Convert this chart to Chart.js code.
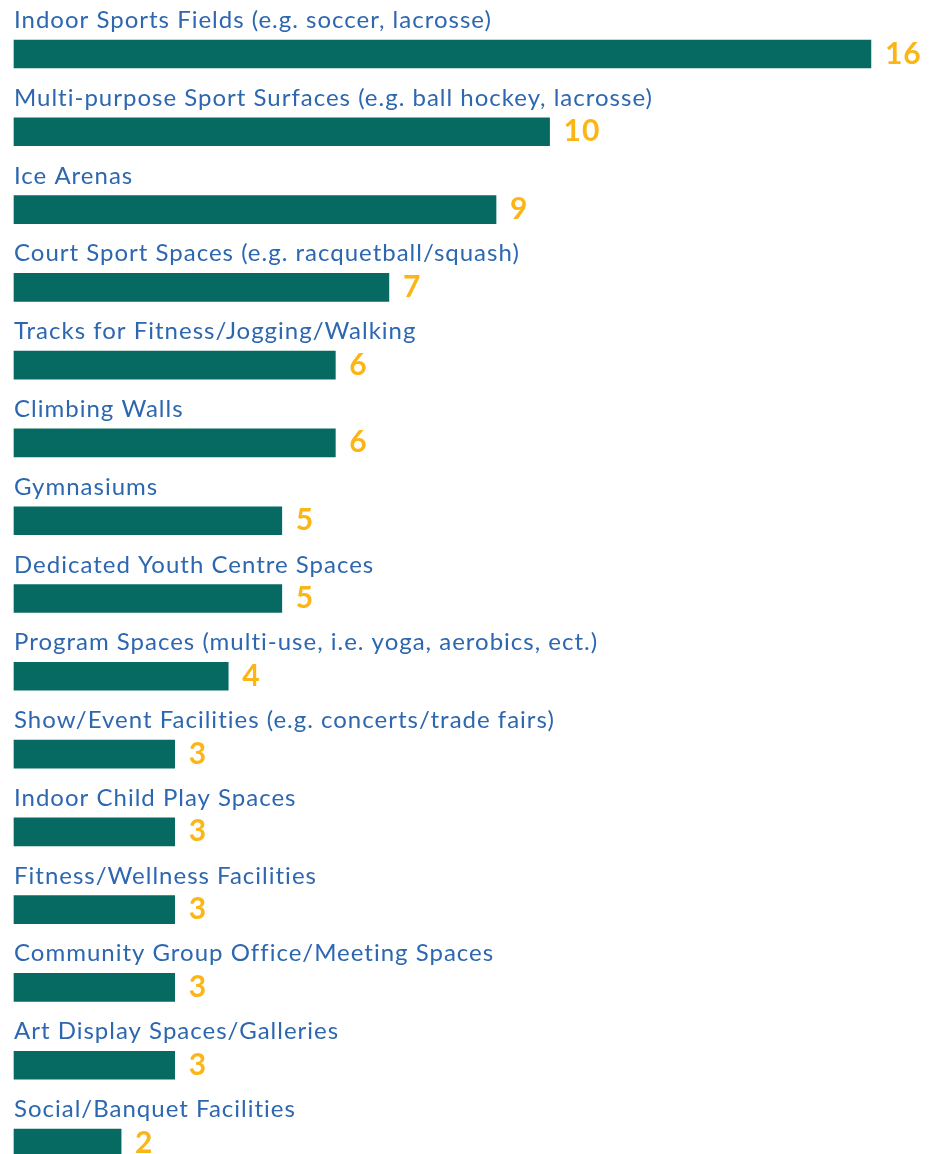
<!DOCTYPE html>
<html>
<head>
<meta charset="utf-8">
<script src="https://cdn.jsdelivr.net/npm/chart.js@4"></script>
<style>
  html, body { margin: 0; padding: 0; background: #fff; overflow: hidden; }
  #wrap { width: 940px; height: 1154px; position: relative; }
</style>
</head>
<body>
<div id="wrap"><canvas id="myChart"></canvas></div>
<script>
// facility types and number of mentions
const facilities = [
  'Indoor Sports Fields (e.g. soccer, lacrosse)',
  'Multi-purpose Sport Surfaces (e.g. ball hockey, lacrosse)',
  'Ice Arenas',
  'Court Sport Spaces (e.g. racquetball/squash)',
  'Tracks for Fitness/Jogging/Walking',
  'Climbing Walls',
  'Gymnasiums',
  'Dedicated Youth Centre Spaces',
  'Program Spaces (multi-use, i.e. yoga, aerobics, ect.)',
  'Show/Event Facilities (e.g. concerts/trade fairs)',
  'Indoor Child Play Spaces',
  'Fitness/Wellness Facilities',
  'Community Group Office/Meeting Spaces',
  'Art Display Spaces/Galleries',
  'Social/Banquet Facilities'
];
const mentions = [16, 10, 9, 7, 6, 6, 5, 5, 4, 3, 3, 3, 3, 3, 2];

const barColor = '#066a62';
const labelColor = '#2d67b0';
const valueColor = '#fbb616';

// draws the category name above each bar and the count after it
const barText = {
  id: 'barText',
  afterDatasetsDraw(chart) {
    const ctx = chart.ctx;
    const meta = chart.getDatasetMeta(0);
    ctx.save();
    meta.data.forEach((bar, i) => {
      const top = bar.y - bar.height / 2;
      ctx.font = '24px Lato, sans-serif';
      ctx.letterSpacing = '1px';
      ctx.fillStyle = labelColor;
      ctx.textAlign = 'left';
      ctx.textBaseline = 'alphabetic';
      ctx.fillText(facilities[i], 14, top - 12);

      ctx.font = 'bold 30px Lato, sans-serif';
      ctx.letterSpacing = '1px';
      ctx.fillStyle = valueColor;
      ctx.fillText(String(mentions[i]), bar.x + 14, bar.y + 9.5);
    });
    ctx.restore();
  }
};

window.onload = function() {
  const ctx = document.getElementById('myChart').getContext('2d');
  new Chart(ctx, {
    type: 'bar',
    data: {
      labels: facilities,
      datasets: [{
        data: mentions,
        backgroundColor: barColor,
        borderWidth: 0,
        barThickness: 28,
        clip: false
      }]
    },
    options: {
      indexAxis: 'y',
      responsive: true,
      maintainAspectRatio: false,
      animation: false,
      layout: { padding: { left: 14, right: 0, top: 54, bottom: 11 } },
      plugins: {
        legend: { display: false },
        tooltip: { enabled: false }
      },
      scales: {
        x: { display: false, min: 0, max: 17.29 },
        y: { display: false, offset: false }
      }
    },
    plugins: [barText]
  });
};
</script>
</body>
</html>
